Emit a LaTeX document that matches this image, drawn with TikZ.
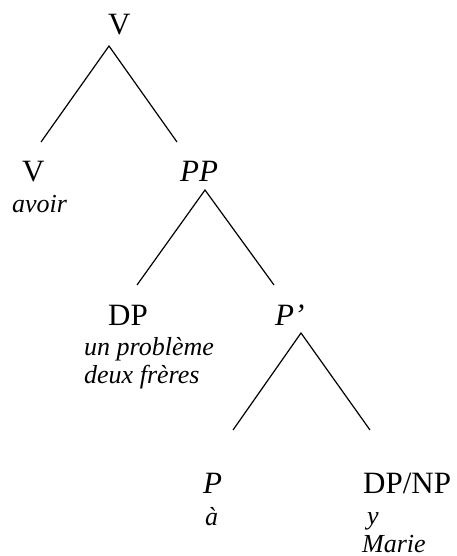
\documentclass[tikz,border=0pt]{standalone}
\usepackage{fontspec}
\setmainfont{Liberation Serif}
\usepackage{tikz}
\tikzset{
  cat/.style={anchor=base west, inner sep=0pt, font=\fontsize{31}{36}\selectfont},
  word/.style={anchor=base west, inner sep=0pt, font=\fontsize{26}{30}\selectfont\itshape},
  branch/.style={line width=1.2pt}
}
\begin{document}
\begin{tikzpicture}[x=1pt, y=-1pt]
    \useasboundingbox (0,0) rectangle (457,556);
    % Category labels
    \node[cat] (vroot) at (108,35) {V};
    \node[cat] (vhead) at (22,182) {V};
    \node[cat] (pp) at (180,182) {\itshape PP};
    \node[cat] (dp) at (108,325) {DP};
    \node[cat] (pbar) at (275,325) {\itshape P’};
    \node[cat] (phead) at (203,493) {\itshape P};
    \node[cat] (dpnp) at (363,493) {DP/NP};
    % Words
    \node[word] (avoir) at (12,212) {avoir};
    \node[word] (probleme) at (84,355) {un problème};
    \node[word] (freres) at (84,383) {deux frères};
    \node[word] (a) at (205,525) {à};
    \node[word] (y) at (367,524) {y};
    \node[word] (marie) at (362,552) {Marie};
    % Branch points
    \coordinate (vroot-top) at (109,46);
    \coordinate (vroot-l) at (41,142);
    \coordinate (vroot-r) at (177,142);
    \coordinate (pp-top) at (205,190);
    \coordinate (pp-l) at (137,285);
    \coordinate (pp-r) at (274,285);
    \coordinate (pbar-top) at (301,333);
    \coordinate (pbar-l) at (233,430);
    \coordinate (pbar-r) at (370,430);
    % Branches
    \draw[branch] (vroot-l) -- (vroot-top) -- (vroot-r);
    \draw[branch] (pp-l) -- (pp-top) -- (pp-r);
    \draw[branch] (pbar-l) -- (pbar-top) -- (pbar-r);
\end{tikzpicture}
\end{document}
